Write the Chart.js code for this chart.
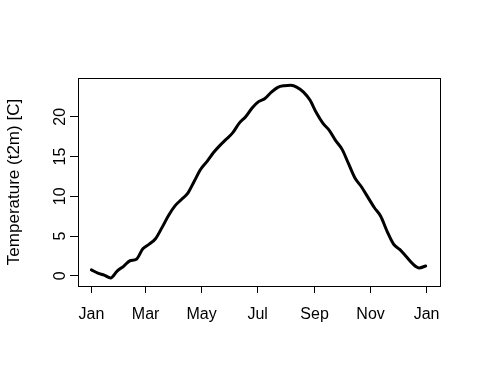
<!DOCTYPE html>
<html>
<head>
<meta charset="utf-8">
<title>Temperature (t2m)</title>
<script src="https://cdn.jsdelivr.net/npm/chart.js@4.4.1/dist/chart.umd.min.js"></script>
<style>
    body { margin: 0; background: #fff; }
    #wrap { width: 480px; height: 384px; }
</style>
</head>
<body>
<div id="wrap"><canvas id="chart" width="480" height="384"></canvas></div>

<script>
// ===============================
// DATA
// ===============================
const days = [0, 7, 14, 21, 28, 35, 42, 49, 56, 63, 70, 77, 84, 91, 98, 105, 112, 119,
    126, 133, 140, 147, 154, 161, 168, 175, 182, 189, 196, 203, 210, 217, 224, 231,
    238, 245, 252, 259, 266, 273, 280, 287, 294, 301, 308, 315, 322, 329, 336, 343,
    350, 357, 364];
const temps = [0.75, 0.35, 0.1, -0.25, 0.6, 1.2, 1.9, 2.1, 3.4, 4.0, 4.7, 6.1, 7.6, 8.8,
    9.6, 10.4, 11.9, 13.4, 14.4, 15.5, 16.4, 17.2, 18.0, 19.2, 20.0, 21.1, 21.9, 22.3,
    23.1, 23.7, 23.9, 23.95, 23.7, 23.1, 22.1, 20.5, 19.2, 18.3, 17.0, 15.9, 14.1, 12.3,
    11.2, 9.9, 8.6, 7.5, 5.6, 4.0, 3.3, 2.4, 1.5, 1.0, 1.25];

const monthTicks = [0, 59, 120, 181, 243, 304, 365];
const monthLabels = ["Jan", "Mar", "May", "Jul", "Sep", "Nov", "Jan"];
const yTicks = [0, 5, 10, 15, 20];

const FONT = { family: "'Liberation Sans', Arial, sans-serif", size: 16 };
const TITLE_FONT = { family: "'Liberation Sans', Arial, sans-serif", size: 17 };

// box round the plot area, like R's box()
const boxPlugin = {
    id: "box",
    afterDraw(chart) {
        const a = chart.chartArea;
        const ctx = chart.ctx;
        ctx.save();
        ctx.strokeStyle = "#000";
        ctx.lineWidth = 1;
        ctx.strokeRect(Math.round(a.left) + 0.5, Math.round(a.top) + 0.5,
            Math.round(a.right - a.left), Math.round(a.bottom - a.top));
        ctx.restore();
    }
};

new Chart(document.getElementById("chart"), {
    type: "line",
    data: {
        datasets: [{
            data: days.map((d, i) => ({ x: d, y: temps[i] })),
            borderColor: "#000",
            borderWidth: 3,
            pointRadius: 0,
            tension: 0.4,
            cubicInterpolationMode: "monotone",
            borderJoinStyle: "round",
            borderCapStyle: "round",
            fill: false
        }]
    },
    options: {
        responsive: false,
        animation: false,
        events: [],
        layout: { padding: { top: 78, right: 40, left: 0, bottom: 0 } },
        plugins: {
            legend: { display: false },
            tooltip: { enabled: false }
        },
        scales: {
            x: {
                type: "linear",
                min: -14.6,
                max: 379.6,
                afterBuildTicks: s => { s.ticks = monthTicks.map(v => ({ value: v })); },
                afterFit: s => { s.height = 98; },
                border: { display: false },
                grid: {
                    drawOnChartArea: false,
                    drawTicks: true,
                    tickLength: 7,
                    tickColor: "#000"
                },
                ticks: {
                    color: "#000",
                    font: FONT,
                    padding: 12,
                    maxRotation: 0,
                    autoSkip: false,
                    callback: (v) => monthLabels[monthTicks.indexOf(v)]
                }
            },
            y: {
                min: -1.27,
                max: 24.87,
                afterBuildTicks: s => { s.ticks = yTicks.map(v => ({ value: v })); },
                afterFit: s => { s.width = 78; },
                border: { display: false },
                grid: {
                    drawOnChartArea: false,
                    drawTicks: true,
                    tickLength: 8,
                    tickColor: "#000"
                },
                ticks: {
                    color: "#000",
                    font: FONT,
                    padding: 1,
                    minRotation: 90,
                    maxRotation: 90,
                    crossAlign: "center"
                },
                title: {
                    display: true,
                    text: "Temperature (t2m) [C]",
                    color: "#000",
                    font: TITLE_FONT,
                    padding: { top: 4, bottom: 0 }
                }
            }
        }
    },
    plugins: [boxPlugin]
});
</script>
</body>
</html>
